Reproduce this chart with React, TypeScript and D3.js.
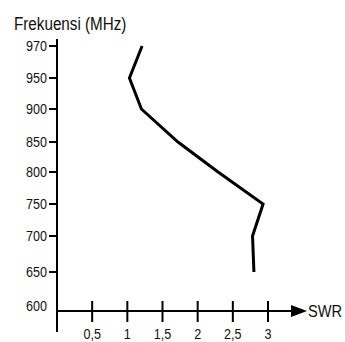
import React, { useEffect, useRef } from 'react';
import * as d3 from 'd3';

const freqs = [970, 950, 900, 850, 800, 750, 700, 650];
const swr = [1.21, 1.03, 1.2, 1.72, 2.29, 2.93, 2.78, 2.8];

const yTicks = [970, 950, 900, 850, 800, 750, 700, 650, 600];
const xTicks = [0.5, 1, 1.5, 2, 2.5, 3];
const xTickLabels = ['0,5', '1', '1,5', '2', '2,5', '3'];

const App = () => {
  const chartRef = useRef<SVGSVGElement>(null);

  useEffect(() => {
    drawChart();
  }, []);

  const drawChart = () => {
    const svg = d3.select(chartRef.current);
    svg.selectAll('*').remove();

    const font = '"Liberation Sans", Arial, sans-serif';
    const x0 = 57;
    const axisY = 311;

    const x = d3.scaleLinear().domain([0, 3]).range([x0, 268]);

    // the hand drawn axis is not evenly spaced, so the scale is piecewise
    const y = d3.scaleLinear()
      .domain([600, 650, 700, 750, 800, 850, 900, 950, 970])
      .range([axisY, 272, 236, 204, 172, 142, 109, 78, 46]);

    // the original font is a bit narrow, squeeze it horizontally
    const label = (g: any, size: number, sx: number) =>
      g.attr('font-family', font)
        .attr('font-size', size)
        .attr('fill', '#111');

    label(
      svg.append('text')
        .attr('transform', 'translate(14,30) scale(0.87,1)')
        .text('Frekuensi (MHz)'),
      17.5, 0.87
    );

    // y axis
    svg.append('line')
      .attr('x1', x0).attr('x2', x0)
      .attr('y1', 39).attr('y2', 332)
      .attr('stroke', '#000').attr('stroke-width', 2);

    svg.selectAll('.ytick')
      .data(yTicks.filter(d => d !== 600))
      .enter().append('line')
      .attr('class', 'ytick')
      .attr('x1', 49).attr('x2', x0)
      .attr('y1', d => y(d)).attr('y2', d => y(d))
      .attr('stroke', '#000').attr('stroke-width', 2);

    label(
      svg.selectAll('.ylabel')
        .data(yTicks)
        .enter().append('text')
        .attr('class', 'ylabel')
        .attr('transform', d => `translate(47,${(d === 600 ? y(d) - 5 : y(d)) + 5}) scale(0.9,1)`)
        .attr('text-anchor', 'end')
        .text(d => d),
      14, 0.9
    );

    // x axis with arrow
    svg.append('line')
      .attr('x1', x0).attr('x2', 295)
      .attr('y1', axisY).attr('y2', axisY)
      .attr('stroke', '#000').attr('stroke-width', 2);

    svg.append('path')
      .attr('d', `M291,${axisY - 6}L307,${axisY}L291,${axisY + 6}Z`)
      .attr('fill', '#000');

    label(
      svg.append('text')
        .attr('transform', `translate(308,${axisY + 6}) scale(0.86,1)`)
        .text('SWR'),
      17, 0.86
    );

    svg.selectAll('.xtick')
      .data(xTicks)
      .enter().append('line')
      .attr('class', 'xtick')
      .attr('x1', d => x(d)).attr('x2', d => x(d))
      .attr('y1', axisY - 10).attr('y2', axisY + 11)
      .attr('stroke', '#000').attr('stroke-width', 2);

    label(
      svg.selectAll('.xlabel')
        .data(xTicks)
        .enter().append('text')
        .attr('class', 'xlabel')
        .attr('transform', d => `translate(${x(d)},339) scale(0.9,1)`)
        .attr('text-anchor', 'middle')
        .text((d, i) => xTickLabels[i]),
      14, 0.9
    );

    // the measured curve
    const line = d3.line<number>()
      .x((d, i) => x(swr[i]))
      .y(d => y(d));

    svg.append('path')
      .datum(freqs)
      .attr('d', line)
      .attr('fill', 'none')
      .attr('stroke', '#000')
      .attr('stroke-width', 3)
      .attr('stroke-linejoin', 'miter');
  };

  return (
    <svg
      ref={chartRef}
      width={345}
      height={342}
      style={{ position: 'absolute', left: 0, top: 0, background: '#fff' }}
    />
  );
};

export default App;
